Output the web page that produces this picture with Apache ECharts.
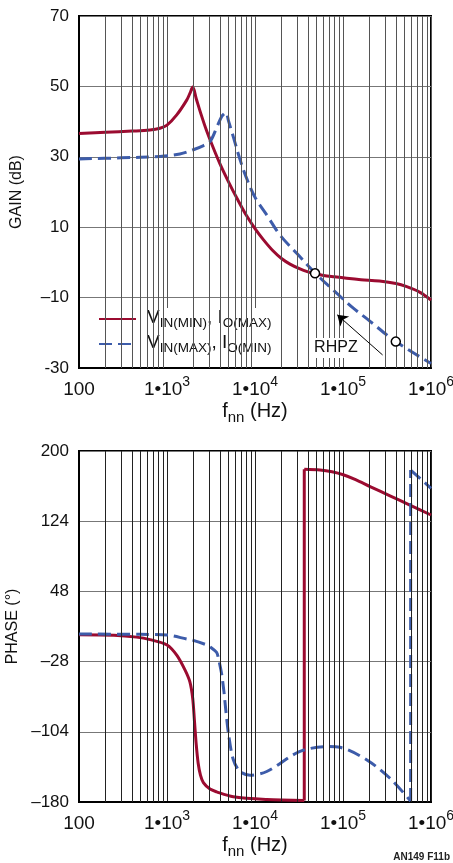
<!DOCTYPE html>
<html><head><meta charset="utf-8">
<script src="https://cdn.jsdelivr.net/npm/echarts@6/dist/echarts.min.js"></script>
<style>html,body{margin:0;padding:0;background:#fff}#c{width:453px;height:863px}</style>
</head><body><div id="c"></div>
<script>
// ---- data ----
const seriesNames = ['VIN(MIN), IO(MAX)', 'VIN(MAX), IO(MIN)'];
const legendParts = [['V', 'IN(MIN)', ', I', 'O(MAX)'], ['V', 'IN(MAX)', ', I', 'O(MIN)']];

const gainRedFreq = [100, 200, 400, 640, 832, 1000, 1290, 1675, 1820, 1960, 2150, 2450, 2800, 3300, 4000, 5000, 6300, 8000, 10000, 12500, 16000, 20000, 25000, 32000, 40000, 48000, 60000, 80000, 110000, 160000, 260000, 400000, 530000, 750000, 1000000];
const gainRedDb   = [36.6, 37.0, 37.3, 37.6, 38.1, 39.0, 41.9, 46.1, 48.0, 49.8, 46.5, 41.9, 37.6, 33.0, 28.0, 22.9, 18.0, 13.3, 9.6, 6.4, 3.3, 1.1, -0.5, -1.8, -2.7, -3.2, -3.7, -4.1, -4.5, -4.9, -5.3, -6.0, -6.9, -8.5, -10.7];

const gainBlueFreq = [100, 300, 832, 1400, 1990, 2600, 3080, 3700, 4170, 4500, 4680, 5000, 5680, 6760, 8000, 10000, 14000, 19200, 30000, 48100, 100000, 131000, 200000, 398000, 1000000];
const gainBlueDb   = [29.4, 29.7, 30.1, 30.8, 32.0, 33.2, 34.3, 38.5, 41.4, 42.3, 42.6, 40.2, 35.6, 29.2, 24.0, 18.5, 13.0, 7.8, 2.5, -3.0, -10.4, -13.0, -16.6, -22.5, -28.7];

const markerPoints = [[48100, -3.1], [398000, -22.5]];
const rhpzLabel = { text: 'RHPZ', at: [83000, -24.3] };
const rhpzArrow = [[282000, -26.3], [86100, -14.9]];

const phaseRedLowFreq = [100, 250, 450, 641, 1000, 1290, 1600, 1820, 1960, 2050, 2150, 2260, 2400, 2590, 3080, 3660, 5660, 13600, 36300];
const phaseRedLowDeg  = [1.0, 0.5, -1.5, -4.2, -10, -21, -37, -50, -68, -92, -118, -138, -151, -159, -166, -169, -174.3, -177.3, -178.5];
const phaseRedHighFreq = [36300, 54800, 75000, 100700, 139000, 203000, 342000, 575000, 1000000];
const phaseRedHighDeg  = [180.2, 179.4, 177.5, 174.3, 169.0, 161.5, 151.5, 141.5, 130.7];

const phaseBlueLowFreq = [100, 500, 1000, 1670, 1990, 2830, 3080, 3660, 3830, 4170, 4430, 4540, 4980, 5660, 6760, 8800, 13600, 32000, 65300, 92000, 187000, 342000, 587000];
const phaseBlueLowDeg  = [1.9, 1.5, 0.8, -3.5, -5, -10, -12, -18, -24, -41, -60, -70, -105, -134, -147, -151, -147, -125.5, -120, -120.8, -134.5, -154.3, -179];
const phaseBlueHighFreq = [587000, 1000000];
const phaseBlueHighDeg  = [179.4, 159.6];

const xTickLabels = [['100', ''], ['1•10', '3'], ['1•10', '4'], ['1•10', '5'], ['1•10', '6']];
const gainTickLabels = ['-30', '–10', '10', '30', '50', '70'];
const phaseTickLabels = ['–180', '–104', '–28', '48', '124', '200'];

// ---- styles ----
const RED = '#9b0b30', BLUE = '#3d5caa';
const REG = '"Liberation Sans", Arial, sans-serif';

function pairs(f, v) { return f.map((x, i) => [x, v[i]]); }

const minorFreqs = [];
[100, 1000, 10000, 100000].forEach(d => { for (let m = 2; m <= 9; m++) minorFreqs.push(d * m); });

function gridLinesSeries(idx, color) {
  return {
    type: 'line', xAxisIndex: idx, yAxisIndex: idx, data: [], z: 1, silent: true,
    markLine: {
      silent: true, symbol: 'none', animation: false,
      label: { show: false }, emphasis: { disabled: true },
      lineStyle: { color: color, width: 1, type: 'solid' },
      data: minorFreqs.map(v => ({ xAxis: v }))
    }
  };
}

function xAxis(idx) {
  return {
    type: 'log', logBase: 10, min: 100, max: 1000000, gridIndex: idx,
    axisLine: { onZero: false, lineStyle: { color: '#000', width: 2 } },
    axisTick: { show: false },
    splitLine: { show: true, lineStyle: { color: idx === 0 ? '#555' : '#222', width: 1 } },
    axisLabel: {
      margin: 7, color: '#111', showMaxLabel: true, showMinLabel: true, hideOverlap: false,
      formatter: v => { const t = xTickLabels[Math.round(Math.log10(v)) - 2]; return t[1] ? '{n|' + t[0] + '}{e|' + t[1] + '}' : '{n|' + t[0] + '}'; },
      rich: {
        n: { fontFamily: REG, fontSize: 19, lineHeight: 24, verticalAlign: 'bottom', color: '#111' },
        e: { fontFamily: REG, fontSize: 14, lineHeight: 17, verticalAlign: 'top', color: '#111' }
      }
    },
    name: '{m|f}{s|nn}{m| (Hz)}', nameLocation: 'middle', nameGap: 33,
    nameTextStyle: {
      rich: {
        m: { fontFamily: REG, fontSize: 20, lineHeight: 24, verticalAlign: 'top', color: '#111' },
        s: { fontFamily: REG, fontSize: 15, lineHeight: 17, verticalAlign: 'bottom', color: '#111' }
      }
    }
  };
}

function yAxis(idx, min, max, interval, labels, name) {
  return {
    type: 'value', gridIndex: idx, min: min, max: max, interval: interval,
    axisLine: { show: true, onZero: false, lineStyle: { color: '#000', width: 2 } },
    axisTick: { show: false },
    splitLine: { show: true, lineStyle: { color: '#777', width: 1 } },
    axisLabel: {
      margin: 10, color: '#111', fontFamily: REG, fontSize: 17,
      formatter: v => labels[Math.round((v - min) / interval)]
    },
    name: name, nameLocation: 'middle', nameRotate: 90, nameGap: 54,
    nameTextStyle: { fontFamily: REG, fontSize: 16, color: '#111' }
  };
}

const redStyle = { color: RED, width: 3, type: 'solid', cap: 'butt', join: 'round' };
const blueStyle = { color: BLUE, width: 3, type: [13, 6], cap: 'butt', join: 'round' };

function curve(name, idx, data, style, smooth) {
  return {
    type: 'line', name: name, xAxisIndex: idx, yAxisIndex: idx, data: data,
    showSymbol: false, symbol: 'none', smooth: smooth, z: 3, silent: true,
    lineStyle: style, itemStyle: { color: style.color }
  };
}

const chart = echarts.init(document.getElementById('c'), null, { renderer: 'canvas' });

const blueGain = curve(seriesNames[1], 0, pairs(gainBlueFreq, gainBlueDb), blueStyle, 0.35);
blueGain.markPoint = {
  silent: true, animation: false,
  data: markerPoints.map(p => ({
    coord: p, symbol: 'circle', symbolSize: 9,
    itemStyle: { color: '#fff', borderColor: '#000', borderWidth: 1.5 },
    label: { show: false }
  })).concat([{
    coord: rhpzLabel.at, symbol: 'rect', symbolSize: 1,
    itemStyle: { color: 'rgba(0,0,0,0)' },
    label: {
      show: true, position: 'inside', formatter: rhpzLabel.text,
      fontFamily: REG, fontSize: 16, color: '#111',
      backgroundColor: '#fff', padding: [2, 2]
    }
  }])
};
blueGain.markLine = {
  silent: true, animation: false, symbol: ['none', 'arrow'], symbolSize: 10,
  label: { show: false },
  lineStyle: { color: '#000', width: 1, type: 'solid' },
  data: [[{ coord: rhpzArrow[0] }, { coord: rhpzArrow[1] }]]
};

const gridBase = { left: 79, width: 352, show: true, borderColor: '#000', borderWidth: 2, backgroundColor: 'transparent', containLabel: false, outerBoundsMode: 'none' };

const option = {
  animation: false,
  backgroundColor: '#fff',
  grid: [
    Object.assign({ top: 16, height: 352 }, gridBase),
    Object.assign({ top: 451, height: 351 }, gridBase)
  ],
  xAxis: [xAxis(0), xAxis(1)],
  yAxis: [
    yAxis(0, -30, 70, 20, gainTickLabels, 'GAIN (dB)'),
    yAxis(1, -180, 200, 76, phaseTickLabels, 'PHASE (°)')
  ],
  legend: {
    data: seriesNames, orient: 'vertical', left: 80, top: 308,
    backgroundColor: '#fff', padding: [0, 7, 12, 18], itemGap: 3,
    itemWidth: 37, itemHeight: 14, selectedMode: false,
    itemStyle: { opacity: 0 },
    formatter: name => { const p = legendParts[seriesNames.indexOf(name)]; return '{g|}{m|' + p[0] + '}{s|' + p[1] + '}{m|' + p[2] + '}{s|' + p[3] + '}'; },
    textStyle: {
      rich: {
        g: { width: 6 },
        m: { fontFamily: REG, fontSize: 19, lineHeight: 22, verticalAlign: 'top', color: '#111' },
        s: { fontFamily: REG, fontSize: 13.5, lineHeight: 16, verticalAlign: 'bottom', color: '#111' }
      }
    }
  },
  graphic: [{
    type: 'text', right: 3, top: 852,
    style: { text: 'AN149 F11b', font: 'bold 10px ' + REG, fill: '#222' }
  }],
  series: [
    gridLinesSeries(0, '#555'),
    gridLinesSeries(1, '#222'),
    curve(seriesNames[0], 0, pairs(gainRedFreq, gainRedDb), redStyle, 0.35),
    blueGain,
    curve('phase-red-a', 1, pairs(phaseRedLowFreq, phaseRedLowDeg), redStyle, 0.3),
    curve('phase-red-b', 1, [[phaseRedLowFreq[phaseRedLowFreq.length - 1], phaseRedLowDeg[phaseRedLowDeg.length - 1]], [phaseRedHighFreq[0], phaseRedHighDeg[0]]], redStyle, false),
    curve('phase-red-c', 1, pairs(phaseRedHighFreq, phaseRedHighDeg), redStyle, 0.3),
    curve('phase-blue-a', 1, pairs(phaseBlueLowFreq, phaseBlueLowDeg), blueStyle, 0.3),
    curve('phase-blue-b', 1, [[phaseBlueLowFreq[phaseBlueLowFreq.length - 1], phaseBlueLowDeg[phaseBlueLowDeg.length - 1]], [phaseBlueHighFreq[0], phaseBlueHighDeg[0]]], blueStyle, false),
    curve('phase-blue-c', 1, pairs(phaseBlueHighFreq, phaseBlueHighDeg), blueStyle, false)
  ]
};
chart.setOption(option);
</script>
</body></html>
